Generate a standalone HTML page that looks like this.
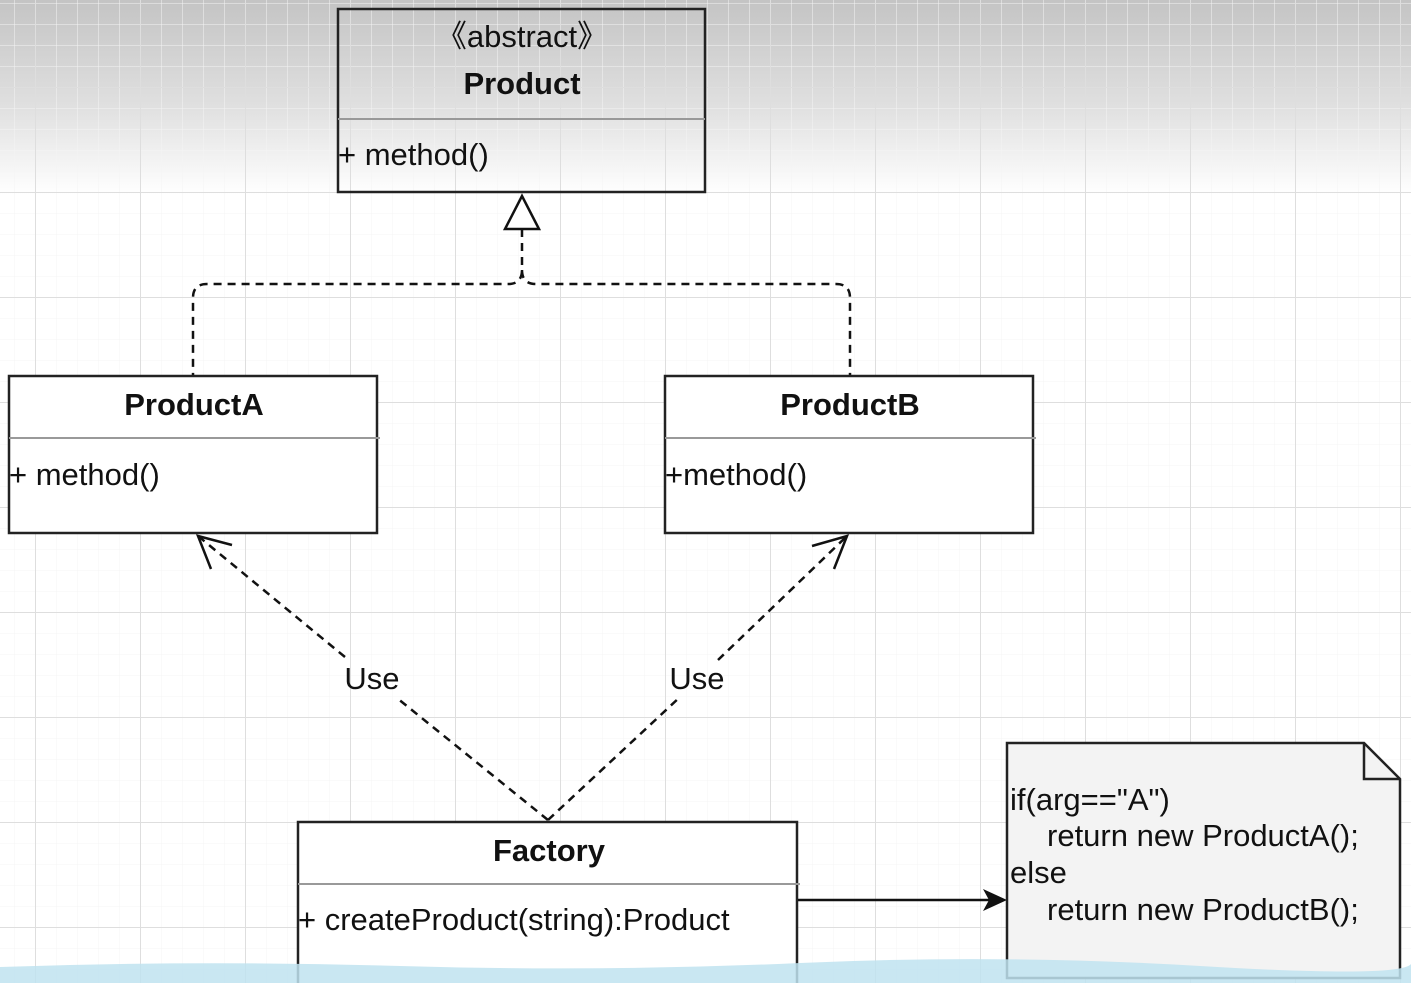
<!DOCTYPE html>
<html><head><style>
html,body{margin:0;padding:0;width:1411px;height:983px;overflow:hidden;background:#fff}
svg{display:block}
text{font-family:"Liberation Sans",Arial,sans-serif;fill:#111}
</style></head><body>
<svg width="1411" height="983" viewBox="0 0 1411 983" xmlns="http://www.w3.org/2000/svg">
<defs>
<linearGradient id="g" x1="0" y1="0" x2="0" y2="1">
<stop offset="0" stop-color="#c4c4c4"/><stop offset="0.55" stop-color="#e0e0e0"/><stop offset="1" stop-color="#ffffff"/>
</linearGradient>
<pattern id="minor" x="14" y="3" width="21" height="21" patternUnits="userSpaceOnUse">
<path d="M0 0H21M0 0V21" stroke="#f4f4f4" stroke-width="1" fill="none"/>
</pattern>
<pattern id="major" x="35" y="87" width="105" height="105" patternUnits="userSpaceOnUse">
<path d="M0 0H105M0 0V105" stroke="#dedede" stroke-width="2" fill="none"/>
</pattern>
</defs>
<rect width="1411" height="983" fill="#fff"/>
<rect width="1411" height="195" fill="url(#g)"/>
<rect width="1411" height="983" fill="url(#minor)"/>
<rect width="1411" height="983" fill="url(#major)"/>

<!-- Product -->
<rect x="338" y="9" width="367" height="183" fill="none" stroke="#222" stroke-width="2.5"/>
<line x1="338" y1="119" x2="705" y2="119" stroke="#999" stroke-width="2"/>
<text x="522" y="47" font-size="31" text-anchor="middle">《abstract》</text>
<text x="522" y="94" font-size="31" font-weight="bold" text-anchor="middle">Product</text>
<text x="338" y="165" font-size="31">+ method()</text>

<!-- inheritance -->
<polygon points="522,196 505,229 539,229" fill="#fff" stroke="#111" stroke-width="2.5"/>
<path d="M522 229V270Q522 284 508 284H207Q193 284 193 298V376M522 270Q522 284 536 284H836Q850 284 850 298V376" fill="none" stroke="#111" stroke-width="2.5" stroke-dasharray="8,6"/>

<!-- ProductA -->
<rect x="9" y="376" width="368" height="157" fill="#fff" stroke="#222" stroke-width="2.5"/>
<line x1="9" y1="438" x2="380" y2="438" stroke="#999" stroke-width="2"/>
<text x="194" y="415" font-size="31" font-weight="bold" text-anchor="middle">ProductA</text>
<text x="9" y="485" font-size="31">+ method()</text>

<!-- ProductB -->
<rect x="665" y="376" width="368" height="157" fill="#fff" stroke="#222" stroke-width="2.5"/>
<line x1="665" y1="438" x2="1036" y2="438" stroke="#999" stroke-width="2"/>
<text x="850" y="415" font-size="31" font-weight="bold" text-anchor="middle">ProductB</text>
<text x="665" y="485" font-size="31">+method()</text>

<!-- Use arrows -->
<path d="M548 820L397 698M345 657L198 536" fill="none" stroke="#111" stroke-width="2.5" stroke-dasharray="8,6"/>
<path d="M548 820L680 697M718 660L847 536" fill="none" stroke="#111" stroke-width="2.5" stroke-dasharray="8,6"/>
<path d="M211 569L198 536L232 545" fill="none" stroke="#111" stroke-width="2.5"/>
<path d="M812 546L847 536L834 569" fill="none" stroke="#111" stroke-width="2.5"/>
<text x="372" y="689" font-size="31" text-anchor="middle">Use</text>
<text x="697" y="689" font-size="31" text-anchor="middle">Use</text>

<!-- Factory -->
<rect x="298" y="822" width="499" height="165" fill="#fff" stroke="#222" stroke-width="2.5"/>
<line x1="298" y1="884" x2="800" y2="884" stroke="#999" stroke-width="2"/>
<text x="549" y="861" font-size="31" font-weight="bold" text-anchor="middle">Factory</text>
<text x="298" y="930" font-size="31">+ createProduct(string):Product</text>

<!-- arrow to note -->
<line x1="798" y1="900" x2="990" y2="900" stroke="#111" stroke-width="2.5"/>
<polygon points="1007,900 983,889 989,900 983,911" fill="#111"/>

<!-- Note -->
<path d="M1007 743H1364L1400 779V978H1007Z" fill="#f3f3f3" stroke="#222" stroke-width="2.5"/>
<path d="M1364 743V779H1400" fill="none" stroke="#222" stroke-width="2.5"/>
<text font-size="31" fill="#222"><tspan x="1010" y="810">if(arg=="A")</tspan><tspan x="1047" y="846">return new ProductA();</tspan><tspan x="1010" y="883">else</tspan><tspan x="1047" y="920">return new ProductB();</tspan></text>

<!-- bottom blue band -->
<path d="M0 967Q200 960 400 966T800 963T1200 966T1411 964V983H0Z" fill="#bfe3f0" opacity="0.85"/>
</svg>
</body></html>
